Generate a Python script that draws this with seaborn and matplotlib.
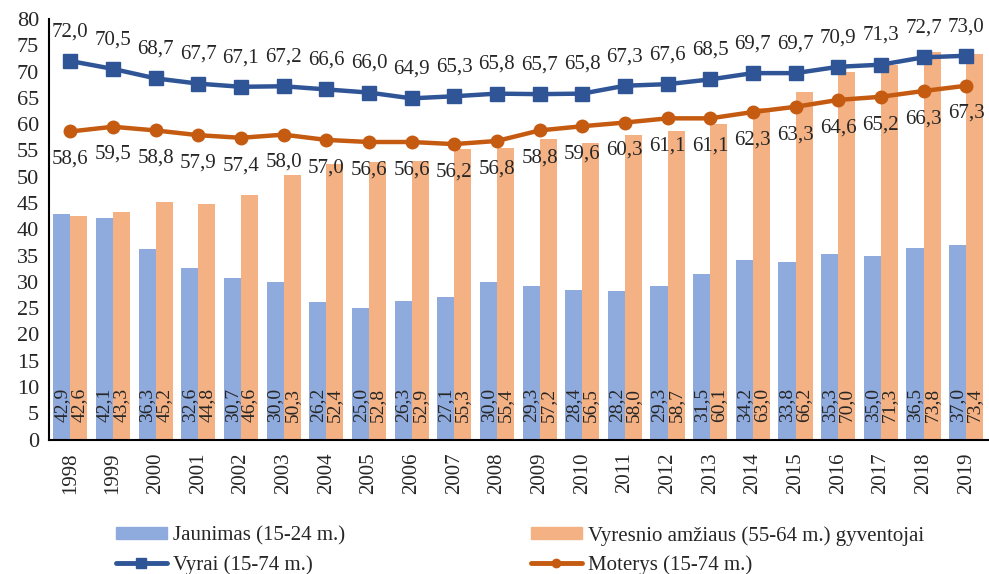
import seaborn as sns
import matplotlib.pyplot as plt
import pandas as pd
import numpy as np
from matplotlib.patches import Patch
from matplotlib.lines import Line2D

years = [str(y) for y in range(1998, 2020)]
jaunimas = [42.9, 42.1, 36.3, 32.6, 30.7, 30.0, 26.2, 25.0, 26.3, 27.1, 30.0,
            29.3, 28.4, 28.2, 29.3, 31.5, 34.2, 33.8, 35.3, 35.0, 36.5, 37.0]
vyresni = [42.6, 43.3, 45.2, 44.8, 46.6, 50.3, 52.4, 52.8, 52.9, 55.3, 55.4,
           57.2, 56.5, 58.0, 58.7, 60.1, 63.0, 66.2, 70.0, 71.3, 73.8, 73.4]
vyrai = [72.0, 70.5, 68.7, 67.7, 67.1, 67.2, 66.6, 66.0, 64.9, 65.3, 65.8,
         65.7, 65.8, 67.3, 67.6, 68.5, 69.7, 69.7, 70.9, 71.3, 72.7, 73.0]
moterys = [58.6, 59.5, 58.8, 57.9, 57.4, 58.0, 57.0, 56.6, 56.6, 56.2, 56.8,
           58.8, 59.6, 60.3, 61.1, 61.1, 62.3, 63.3, 64.6, 65.2, 66.3, 67.3]

lbl_j = "Jaunimas (15-24 m.)"
lbl_v = "Vyresnio amžiaus (55-64 m.) gyventojai"
lbl_vy = "Vyrai (15-74 m.)"
lbl_m = "Moterys (15-74 m.)"

c_j, c_v, c_vy, c_m = "#8FAADC", "#F4B183", "#2F5597", "#C55A11"

df = pd.DataFrame({
    "Metai": years * 2,
    "Reiksme": jaunimas + vyresni,
    "Grupe": [lbl_j] * len(years) + [lbl_v] * len(years),
})

sns.set_style("white")
plt.rcParams["font.family"] = ["Liberation Serif", "DejaVu Serif"]

fig = plt.figure(figsize=(9.89, 5.74), dpi=100)
ax = fig.add_axes([0.0495, 0.234, 0.949, 0.733])

sns.barplot(data=df, x="Metai", y="Reiksme", hue="Grupe",
            palette=[c_j, c_v], width=0.8, saturation=1, linewidth=0,
            ax=ax, legend=False)

xs = np.arange(len(years))
ax.plot(xs, vyrai, color=c_vy, lw=3.2, marker="s", ms=10, zorder=5)
ax.plot(xs, moterys, color=c_m, lw=3.2, marker="o", ms=9, zorder=5)

fmt = lambda v: f"{v:.1f}".replace(".", ",")

for i in xs:
    ax.text(i - 0.2, 6.6, fmt(jaunimas[i]), rotation=90, ha="center",
            va="center", fontsize=14)
    ax.text(i + 0.2, 6.6, fmt(vyresni[i]), rotation=90, ha="center",
            va="center", fontsize=14)
    ax.annotate(fmt(vyrai[i]), (i, vyrai[i]), xytext=(0, 21),
                textcoords="offset points", ha="center", va="center",
                fontsize=15)
    ax.annotate(fmt(moterys[i]), (i, moterys[i]), xytext=(0, -20),
                textcoords="offset points", ha="center", va="center",
                fontsize=15)

ax.set_ylim(0, 80)
ax.set_yticks(range(0, 81, 5))
ax.set_xlim(-0.5, len(years) - 0.5)
ax.set_xticks(xs)
ax.set_xticklabels(years, rotation=90, fontsize=15)
ax.set_xticks(np.arange(-0.5, len(years)), minor=True)
ax.tick_params(axis="x", which="major", length=0, pad=9)
ax.tick_params(axis="x", which="minor", length=6, width=1.5, color="black")
ax.tick_params(axis="y", labelsize=16, length=4, width=1.5, color="black", pad=3)
ax.set_xlabel("")
ax.set_ylabel("")
for s in ["top", "right"]:
    ax.spines[s].set_visible(False)
for s in ["left", "bottom"]:
    ax.spines[s].set_color("black")
    ax.spines[s].set_linewidth(1.5)

handles = [
    Patch(color=c_j),
    Line2D([0], [0], color=c_vy, lw=3.5, marker="s", ms=7,
           solid_capstyle="round"),
    Patch(color=c_v),
    Line2D([0], [0], color=c_m, lw=3.5, marker="o", ms=6,
           solid_capstyle="round"),
]
labels = [lbl_j, lbl_vy, lbl_v, lbl_m]
fig.legend(handles, labels, loc="upper left", bbox_to_anchor=(0.117, 0.084),
           ncol=2, frameon=False, fontsize=15, handlelength=2.45,
           handleheight=0.55, handletextpad=0.3, columnspacing=8.9,
           labelspacing=0.45, borderaxespad=0, borderpad=0)

fig.savefig("out.png", dpi=100)
plt.close(fig)
